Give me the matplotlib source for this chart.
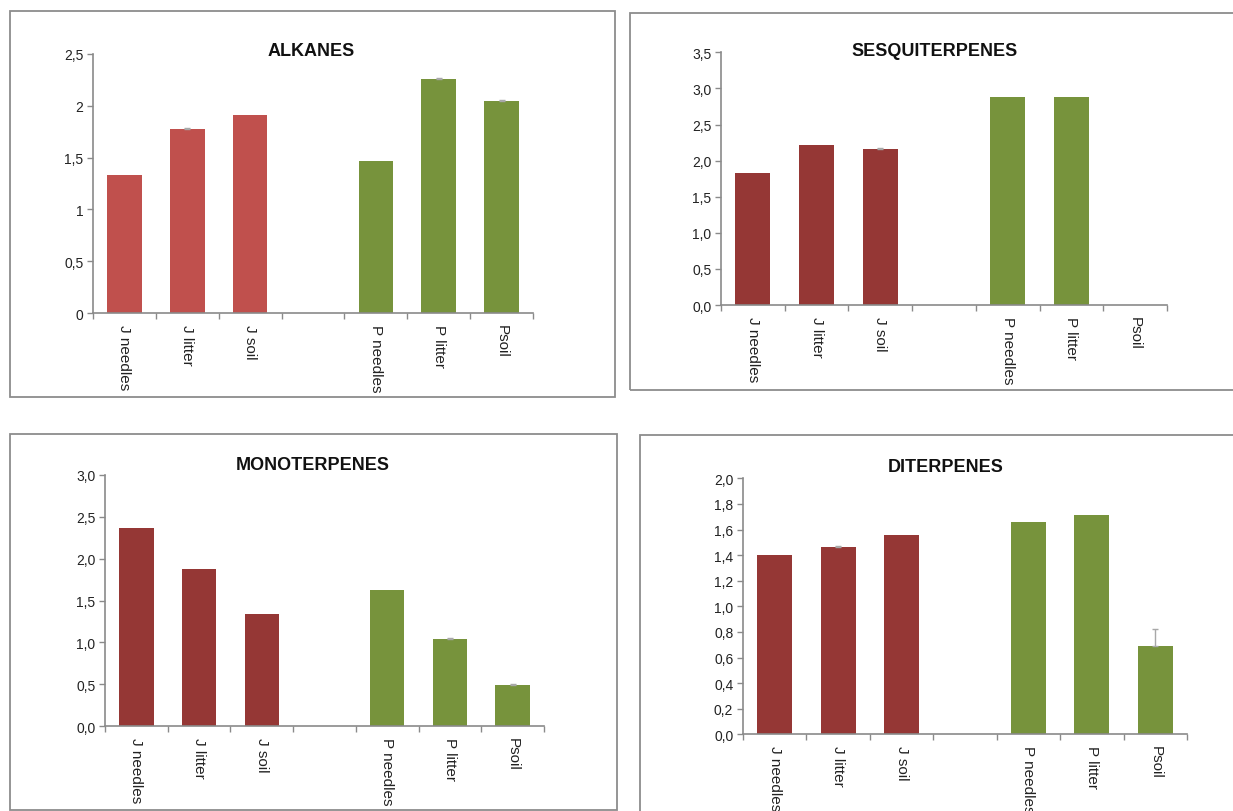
import matplotlib
matplotlib.use("Agg")
import matplotlib.pyplot as plt
from matplotlib.patches import Rectangle
from matplotlib.ticker import FixedLocator, FuncFormatter
from matplotlib.transforms import blended_transform_factory, offset_copy

plt.rcParams['font.family'] = ['Liberation Sans', 'DejaVu Sans']

# sample sites; slot 3 is left empty to split the two species
categories = ["J needles", "J litter", "J soil", "P needles", "P litter", "Psoil"]
positions = [0, 1, 2, 4, 5, 6]

alkanes = [1.33, 1.78, 1.91, 1.47, 2.26, 2.05]
alkanes_err = [0.0, 0.01, 0.0, 0.0, 0.01, 0.01]

sesquiterpenes = [1.83, 2.21, 2.16, 2.875, 2.885, 0.0]
sesquiterpenes_err = [0.0, 0.0, 0.01, 0.0, 0.0, 0.0]

monoterpenes = [2.37, 1.87, 1.34, 1.63, 1.04, 0.49]
monoterpenes_err = [0.0, 0.0, 0.0, 0.0, 0.01, 0.01]

diterpenes = [1.40, 1.46, 1.56, 1.66, 1.71, 0.69]
diterpenes_err = [0.0, 0.01, 0.0, 0.0, 0.0, 0.13]

W, H = 1233, 812
fig = plt.figure(figsize=(W / 100, H / 100), dpi=100)

light_red = "#C0504D"
dark_red = "#953735"
green = "#77933C"
axis_grey = "#8A8A8A"


def frame(left, top, right, bottom):
    fig.add_artist(Rectangle((left / W, 1 - bottom / H), (right - left) / W,
                             (bottom - top) / H, transform=fig.transFigure,
                             fill=False, ec="#8C8C8C", lw=1.3))


def panel(x0, x1, y0, y1, values, errors, ymax, step, fmt, jcolor,
          title, title_xy):
    ax = fig.add_axes([x0 / W, 1 - y0 / H, (x1 - x0) / W, (y0 - y1) / H])
    colors = [jcolor] * 3 + [green] * 3
    ax.bar(positions, values, width=0.55, color=colors, zorder=2)
    # only the non-zero error bars are worth drawing
    for p, v, e in zip(positions, values, errors):
        if e > 0:
            ax.errorbar([p], [v], yerr=[[0], [e]], fmt="none",
                        ecolor="#A8A8A8", elinewidth=1, capsize=2,
                        capthick=1, zorder=3)
    ax.set_xlim(-0.5, 6.5)
    ax.set_ylim(0, ymax)
    for s in ["top", "right"]:
        ax.spines[s].set_visible(False)
    for s in ["left", "bottom"]:
        ax.spines[s].set_color(axis_grey)
        ax.spines[s].set_linewidth(1.2)
    n = int(round(ymax / step))
    ticks = [i * step for i in range(n + 1)]
    ax.yaxis.set_major_locator(FixedLocator(ticks))
    ax.yaxis.set_major_formatter(FuncFormatter(fmt))
    ax.tick_params(axis="y", length=4, width=1, color=axis_grey,
                   labelsize=10, labelcolor="#222222", pad=3)
    ax.xaxis.set_major_locator(FixedLocator([i - 0.5 for i in range(8)]))
    ax.tick_params(axis="x", length=4, width=1, color=axis_grey,
                   labelbottom=False)
    trans = offset_copy(blended_transform_factory(ax.transData, ax.transAxes),
                        fig=fig, x=0, y=-11, units="dots")
    for p, name in zip(positions, categories):
        ax.text(p, 0, name, rotation=270, ha="center", va="top",
                fontsize=11, color="#222222", transform=trans)
    fig.text(title_xy[0] / W, 1 - title_xy[1] / H, title, ha="center",
             va="center", fontsize=13, fontweight="bold", color="#111111")
    return ax


def plain(v, pos):
    return ("%g" % v).replace(".", ",")


def one_dec(v, pos):
    return ("%.1f" % v).replace(".", ",")


frame(10, 12, 615, 398)
frame(630, 14, 1245, 391)
frame(10, 435, 617, 811)
frame(640, 436, 1245, 830)

panel(93, 533, 314, 55, alkanes, alkanes_err, 2.5, 0.5, plain,
      light_red, "ALKANES", (311, 51))
panel(721, 1167, 306, 53.3, sesquiterpenes, sesquiterpenes_err, 3.5, 0.5,
      one_dec, dark_red, "SESQUITERPENES", (935, 52))
panel(105, 544, 727.3, 475.7, monoterpenes, monoterpenes_err, 3.0, 0.5,
      one_dec, dark_red, "MONOTERPENES", (313, 466))
panel(743, 1187, 735.3, 479.3, diterpenes, diterpenes_err, 2.0, 0.2,
      one_dec, dark_red, "DITERPENES", (946, 468))

fig.savefig("out.png", dpi=100)
